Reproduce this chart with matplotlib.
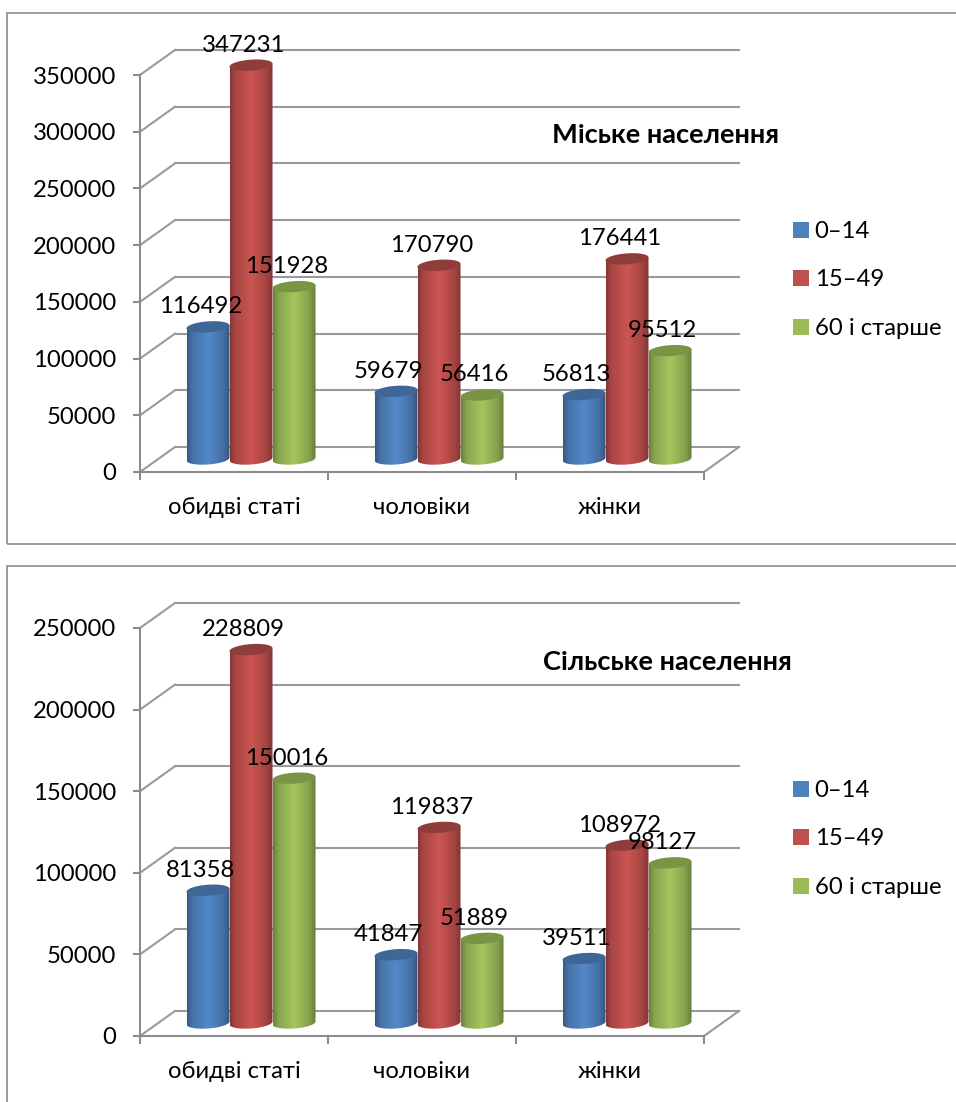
import matplotlib
matplotlib.use('Agg')
import matplotlib.pyplot as plt
import numpy as np
from matplotlib.lines import Line2D
from matplotlib.patches import PathPatch, Rectangle
from matplotlib.path import Path
from matplotlib.transforms import Affine2D

plt.rcParams['font.family'] = ['Lato', 'Noto Sans', 'DejaVu Sans']

W, H = 956, 1102

categories = ['обидві статі', 'чоловіки', 'жінки']
age_groups = ['0–14', '15–49', '60 і старше']

urban_young = [116492, 59679, 56813]
urban_middle = [347231, 170790, 176441]
urban_old = [151928, 56416, 95512]

rural_young = [81358, 41847, 39511]
rural_middle = [228809, 119837, 108972]
rural_old = [150016, 51889, 98127]

urban_ticks = [0, 50000, 100000, 150000, 200000, 250000, 300000, 350000]
rural_ticks = [0, 50000, 100000, 150000, 200000, 250000]

base_colors = ['#4f81bd', '#c0504d', '#9bbb59']
cap_colors = ['#3e6696', '#8f3d3b', '#7a9446']
grid_color = '#9a9a9a'
frame_color = '#8c8c8c'

fig = plt.figure(figsize=(W / 100, H / 100), dpi=100, facecolor='white')


def fx(x):
    return x / W


def fy(y):
    return 1 - y / H


def shaded(color):
    # brightness across the cylinder: dark edges, light band near the middle
    rgb = np.array(matplotlib.colors.to_rgb(color))
    t = np.linspace(0, 1, 128)
    k = np.interp(t, [0, 0.12, 0.5, 0.85, 1], [0.68, 0.88, 1.06, 0.86, 0.66])
    return np.clip(k[:, None] * rgb, 0, 1)[None, :, :]


def cylinder(ax, trans, cx, width, value, color, cap, units):
    # units = value units per pixel, so the ellipse keeps its pixel size
    rx = width / 2
    ry = 5.5 * units
    tilt = 1.5 * units
    t_low = np.linspace(np.pi, 2 * np.pi, 40)
    t_all = np.linspace(0, 2 * np.pi, 80)
    low = np.column_stack((cx + rx * np.cos(t_low), ry * np.sin(t_low) + tilt * np.cos(t_low)))
    body = np.vstack((low, [[cx + rx, value + tilt]], [[cx - rx, value - tilt]], low[:1]))
    patch = PathPatch(Path(body), transform=trans, facecolor='none', edgecolor='none')
    ax.add_patch(patch)
    im = ax.imshow(shaded(color), extent=(cx - rx, cx + rx, -2 * ry, value + 2 * ry),
                   transform=trans, aspect='auto', interpolation='bilinear', zorder=3)
    im.set_clip_path(patch)
    im.set_clip_box(fig.bbox)
    top = np.column_stack((cx + rx * np.cos(t_all), value + ry * np.sin(t_all) + tilt * np.cos(t_all)))
    ax.fill(top[:, 0], top[:, 1], color=cap, lw=0, transform=trans, zorder=3, clip_on=False)


def draw_chart(y_zero, y_max, ticks, series, title, title_xy, legend_y):
    ymax = ticks[-1]
    ax = fig.add_axes([fx(140), fy(y_zero), fx(704 - 140), (y_zero - y_max) / H])
    ax.patch.set_visible(False)
    ax.set_xlim(0, 3)
    ax.set_ylim(0, ymax)
    units = ymax / (y_zero - y_max)

    # back wall, floor and side lines are the front scale shifted in depth
    back = ax.transData + Affine2D().translate(35, 25)
    for v in ticks:
        ax.plot([0, 3], [v, v], color=grid_color, lw=1.5, transform=back, clip_on=False, zorder=1)
        x0, y0 = ax.transData.transform((0, v))
        ax.add_artist(Line2D([x0, x0 + 35], [y0, y0 + 25], color=grid_color, lw=1.5,
                             transform=None, clip_on=False, zorder=1))
    x0, y0 = ax.transData.transform((3, 0))
    ax.add_artist(Line2D([x0, x0 + 35], [y0, y0 + 25], color=grid_color, lw=1.5,
                         transform=None, clip_on=False, zorder=1))

    bars = ax.transData + Affine2D().translate(17, 13)
    width = 43 / 188
    for i, values in enumerate(series):
        for j, v in enumerate(values):
            cx = j + 0.5 + (i - 1) * width
            cylinder(ax, bars, cx, width, v, base_colors[i], cap_colors[i], units)
            ax.annotate(str(v), (cx, v), xycoords=bars, xytext=(-5.5, 14.5), textcoords='offset points',
                        ha='center', va='center', fontsize=17.2, color='black', zorder=5,
                        annotation_clip=False)

    ax.set_xlim(0, 3)
    ax.set_ylim(0, ymax)
    ax.set_yticks(ticks)
    ax.set_yticklabels([str(v) for v in ticks], fontsize=17.2)
    ax.set_xticks([0, 1, 2, 3])
    ax.set_xticklabels([])
    ax.set_xticks([0.5, 1.5, 2.5], minor=True)
    ax.set_xticklabels(categories, minor=True, fontsize=17.2)
    ax.tick_params(axis='x', which='major', length=6, width=1.5, color=frame_color)
    ax.tick_params(axis='x', which='minor', length=0, pad=18)
    ax.tick_params(axis='y', length=5, width=1.5, color=frame_color, pad=12)
    for side in ['top', 'right']:
        ax.spines[side].set_visible(False)
    for side in ['left', 'bottom']:
        ax.spines[side].set_color(frame_color)
        ax.spines[side].set_linewidth(1.5)

    fig.text(fx(title_xy[0]), fy(title_xy[1]), title, ha='center', va='center',
             fontsize=19.6, fontweight='bold', color='black')

    handles = [Rectangle((0, 0), 1, 1, facecolor=c, edgecolor='none') for c in base_colors]
    ax.legend(handles, age_groups, loc='upper left', bbox_to_anchor=(fx(793), fy(legend_y)),
              bbox_transform=fig.transFigure, frameon=False, fontsize=17.2, handlelength=0.66,
              handleheight=0.66, handletextpad=0.25, labelspacing=1.15, borderpad=0, borderaxespad=0)


# frames around the two charts
fig.add_artist(Rectangle((fx(7), fy(544)), 1.0, fy(13) - fy(544), transform=fig.transFigure,
                         facecolor='none', edgecolor=frame_color, lw=1.2))
fig.add_artist(Rectangle((fx(7), fy(1200)), 1.0, fy(566) - fy(1200), transform=fig.transFigure,
                         facecolor='none', edgecolor=frame_color, lw=1.2))

draw_chart(472, 75, urban_ticks, [urban_young, urban_middle, urban_old],
           'Міське населення', (665, 135), 221)
draw_chart(1036, 628, rural_ticks, [rural_young, rural_middle, rural_old],
           'Сільське населення', (667, 662), 780)

fig.savefig('out.png', dpi=100)
